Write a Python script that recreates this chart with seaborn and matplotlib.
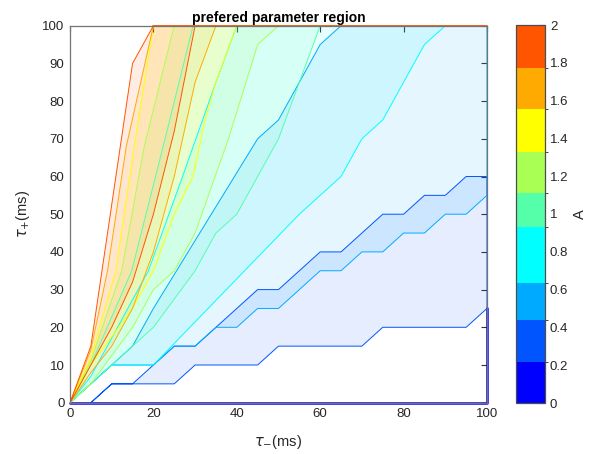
import numpy as np
import matplotlib
matplotlib.use("Agg")
import matplotlib as mpl
import matplotlib.pyplot as plt
import seaborn as sns
from matplotlib.colors import ListedColormap, BoundaryNorm

# ---------------- data ----------------
TAU_MAX = 100
# colour-band edges of the A colorbar
A_bounds = [0, 0.217, 0.439, 0.635, 0.931, 1.111, 1.328, 1.556, 1.774, 2]
A_ticks = [0, 0.2, 0.4, 0.6, 0.8, 1.0, 1.2, 1.4, 1.6, 1.8, 2.0]
level_colors = ["#0000FF", "#0055FF", "#00AAFF", "#00FFFF", "#55FFAA",
                "#AAFF55", "#FFFF00", "#FFAA00", "#FF5500"]

# level 0 : only a boundary line along tau+ = 0 and the right edge
r0_tm = [0, 100, 100]
r0_tp = [0, 0, 25]

# level 1 : band between two staircases
r1_low_tm = [5, 10, 25, 30, 45, 50, 70, 75, 95, 100]
r1_low_tp = [0, 5, 5, 10, 10, 15, 15, 20, 20, 25]
r1_up_tm = [10, 15, 25, 30, 45, 50, 60, 65, 75, 80, 85, 90, 95, 100]
r1_up_tp = [5, 5, 15, 15, 30, 30, 40, 40, 50, 50, 55, 55, 60, 60]

# level 2 : above a staircase, below a fan line
r2_low_tm = [0, 10, 20, 25, 30, 35, 40, 45, 50, 55, 60, 65, 70, 75, 80, 85, 90, 95, 100]
r2_low_tp = [0, 10, 10, 15, 15, 20, 20, 25, 25, 30, 35, 35, 40, 40, 45, 45, 50, 50, 55]
r2_up_tm = [0, 5, 10, 15, 20, 45, 50, 55, 60, 65]
r2_up_tp = [0, 5, 10, 15, 25, 70, 75, 85, 95, 100]

# levels 3..8 : wedges between a left (steep) and a right (flat) line
r3_left_tm = [0, 5, 18.8, 27, 35, 40]
r3_left_tp = [0, 7, 35, 60, 85, 100]
r3_right_tm = [0, 10, 20, 55, 65, 70, 75, 85, 90]
r3_right_tp = [0, 10, 10, 50, 60, 70, 75, 95, 100]

r4_left_tm = [0, 5, 14.8, 22.8, 29.5]
r4_left_tp = [0, 10, 35, 70, 100]
r4_right_tm = [0, 5, 15, 20, 30, 35, 40, 50, 60]
r4_right_tp = [0, 5, 15, 20, 35, 45, 50, 70, 100]

r5_left_tm = [0, 5, 12.4, 17.8, 25]
r5_left_tp = [0, 11, 35, 68, 100]
r5_right_tm = [0, 5, 15, 20, 25, 30, 38, 45, 50]
r5_right_tp = [0, 5, 20, 30, 35, 45, 70, 95, 100]

r6_left_tm = [0, 5, 11, 15.4, 20]
r6_left_tp = [0, 12, 35, 68, 100]
r6_right_tm = [0, 5, 15, 20, 25, 29.5, 32.4, 35, 40]
r6_right_tp = [0, 10, 25, 35, 50, 60, 75, 85, 100]

r7_left_tm = [0, 5, 9, 13.5, 20]
r7_left_tp = [0, 14, 35, 68, 100]
r7_right_tm = [0, 5, 10, 15, 20, 25, 30, 35]
r7_right_tp = [0, 8, 15, 25, 40, 60, 85, 100]

r8_left_tm = [0, 5, 15, 20]
r8_left_tp = [0, 15, 90, 100]
r8_right_tm = [0, 5, 10, 15, 20, 25, 30]
r8_right_tp = [0, 10, 20, 32, 50, 72, 100]

# ---------------- style ----------------
sns.set_style("white")
plt.rcParams["font.family"] = ["Liberation Sans", "DejaVu Sans"]
plt.rcParams["mathtext.fontset"] = "dejavusans"

fig = plt.figure(figsize=(5.9, 4.54), dpi=100)
ax = fig.add_axes([70 / 590, 1 - 402.7 / 454, 417 / 590, 377 / 454])
cax = fig.add_axes([516 / 590, 1 - 403 / 454, 29 / 590, 378 / 454])

FILL_ALPHA = 0.1
LW = 0.7


def draw_region(px, py, color):
    px = list(px) + [px[0]]
    py = list(py) + [py[0]]
    ax.fill(px, py, color=color, alpha=FILL_ALPHA, lw=0)
    sns.lineplot(x=px, y=py, sort=False, estimator=None, color=color,
                 lw=LW, ax=ax, legend=False)


# level 0 line
sns.lineplot(x=r0_tm, y=r0_tp, sort=False, estimator=None,
             color=level_colors[0], lw=1.8, ax=ax, legend=False, clip_on=False)

# level 1
draw_region(r1_low_tm + r1_up_tm[::-1], r1_low_tp + r1_up_tp[::-1], level_colors[1])
# level 2
draw_region(r2_low_tm + [TAU_MAX] + r2_up_tm[::-1],
            r2_low_tp + [TAU_MAX] + r2_up_tp[::-1], level_colors[2])
# levels 3..8
wedges = [
    (r3_left_tm, r3_left_tp, r3_right_tm, r3_right_tp),
    (r4_left_tm, r4_left_tp, r4_right_tm, r4_right_tp),
    (r5_left_tm, r5_left_tp, r5_right_tm, r5_right_tp),
    (r6_left_tm, r6_left_tp, r6_right_tm, r6_right_tp),
    (r7_left_tm, r7_left_tp, r7_right_tm, r7_right_tp),
    (r8_left_tm, r8_left_tp, r8_right_tm, r8_right_tp),
]
for k, (lx, ly, rx, ry) in enumerate(wedges, start=3):
    draw_region(lx + rx[::-1], ly + ry[::-1], level_colors[k])

# top boundary drawn by the last level
sns.lineplot(x=[r8_left_tm[-1], TAU_MAX], y=[TAU_MAX, TAU_MAX], sort=False,
             estimator=None, color=level_colors[8], lw=1.3, ax=ax,
             legend=False, clip_on=False)

ax.set_xlim(0, TAU_MAX)
ax.set_ylim(0, TAU_MAX)
ax.set_xticks(range(0, 101, 20))
ax.set_yticks(range(0, 101, 10))
ax.tick_params(direction="in", top=True, right=True, length=4, width=0.8,
               color="0.2", labelcolor="0.15", labelsize=9.5, pad=4)
for s in ax.spines.values():
    s.set_color("0.45")
    s.set_linewidth(0.9)
    s.set_visible(True)

ax.set_title("prefered parameter region", fontsize=10, fontweight="bold",
             color="black", pad=3)
ax.set_xlabel(r"$\tau_{-}$(ms)", fontsize=10.5, color="0.15", labelpad=9)
ax.set_ylabel(r"$\tau_{+}$(ms)", fontsize=10.5, color="0.15", labelpad=7)

# colorbar
cmap = ListedColormap(level_colors)
norm = BoundaryNorm(A_bounds, cmap.N)
cb = mpl.colorbar.ColorbarBase(cax, cmap=cmap, norm=norm, ticks=A_ticks,
                               spacing="proportional", orientation="vertical")
cb.ax.set_yticklabels(["%g" % t for t in A_ticks])
cb.ax.tick_params(direction="in", length=4, width=0.8, color="0.2",
                  labelcolor="0.15", labelsize=9.5)
cb.outline.set_edgecolor("0.3")
cb.outline.set_linewidth(0.9)
cb.set_label("A", fontsize=10.5, color="0.15", labelpad=3)

fig.savefig("out.png", dpi=100)
